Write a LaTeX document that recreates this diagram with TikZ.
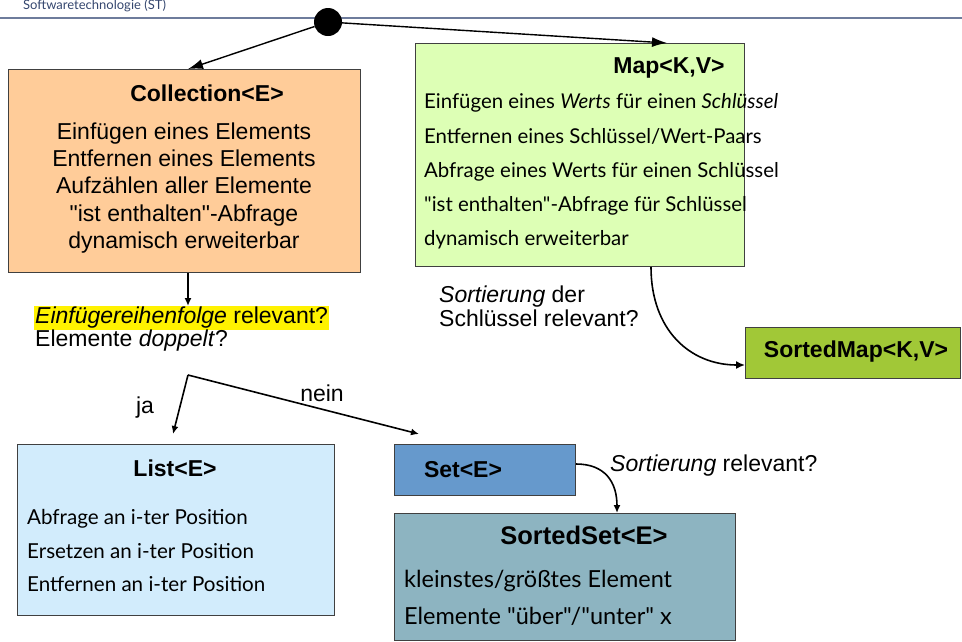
\documentclass[tikz,border=0pt]{standalone}
\usepackage{fontspec}
\setmainfont{Liberation Sans}
\newfontfamily\lato{Lato}
\newfontfamily\arialplain{Liberation Sans}
\usetikzlibrary{arrows.meta}
\definecolor{collfill}{HTML}{FFCC99}
\definecolor{mapfill}{HTML}{DDFFB5}
\definecolor{smapfill}{HTML}{A1C837}
\definecolor{listfill}{HTML}{D2ECFC}
\definecolor{setfill}{HTML}{6699CC}
\definecolor{ssetfill}{HTML}{8DB4C1}
\definecolor{hdrline}{HTML}{6E7C9C}
\definecolor{hdrtext}{HTML}{34466E}
\tikzset{
  box/.style={draw=black!75, line width=1pt, inner sep=0pt, anchor=north west},
  ttl/.style={font=\bfseries\fontsize{#1}{#1}\selectfont, inner sep=0pt},
  lbl/.style={font=\fontsize{23}{24}\selectfont, inner sep=0pt},
  bigarrow/.style={line width=1.4pt, -{Latex[length=15pt,width=10pt]}},
  smallarrow/.style={line width=1.6pt, -{Latex[length=8pt,width=7pt]}},
}
\begin{document}
\begin{tikzpicture}[x=1pt,y=-1pt]
\useasboundingbox (0,0) rectangle (962,641);
% header
\draw[hdrline, line width=1.4pt] (0,18) -- (962,18);
\node[anchor=west, inner sep=0pt, text=hdrtext, font=\lato\fontsize{13}{14}\selectfont] (hdr) at (23,6) {Softwaretechnologie (ST)};
% root
\node[circle, fill=black, minimum size=28pt, inner sep=0pt] (root) at (328,22) {};
% boxes
\node[box, fill=collfill, minimum width=352, minimum height=203] (coll) at (8,69) {};
\node[box, fill=mapfill, minimum width=329, minimum height=223] (map) at (415,43) {};
\node[box, fill=smapfill, minimum width=215, minimum height=51] (smap) at (745,327) {};
\node[box, fill=listfill, minimum width=317, minimum height=171] (list) at (17,444) {};
\node[box, fill=setfill, minimum width=181, minimum height=51] (set) at (394,444) {};
\node[box, fill=ssetfill, minimum width=341, minimum height=127] (sset) at (394,513) {};
% titles
\node[ttl=23] (colltitle) at (207,93) {Collection<E>};
\node[ttl=23] (maptitle) at (669,68) {Map<K,V>};
\node[ttl=23] (smaptitle) at (856,352) {SortedMap<K,V>};
\node[ttl=23] (listtitle) at (175,468) {List<E>};
\node[ttl=23] (settitle) at (463,470) {Set<E>};
\node[ttl=25.5] (ssettitle) at (584,535) {SortedSet<E>};
% bodies
\node[inner sep=0pt, align=center, font=\arialplain\fontsize{23}{27.25}\selectfont] (collbody) at (184,188)
  {Einfügen eines Elements\\Entfernen eines Elements\\Aufzählen aller Elemente\\"ist enthalten"-Abfrage\\dynamisch erweiterbar};
\node[inner sep=0pt, anchor=west, align=left, font=\lato\fontsize{20.4}{34.25}\selectfont] (mapbody) at (424,171.5)
  {Einfügen eines \textit{Werts} für einen \textit{Schlüssel}\\Entfernen eines Schlüssel/Wert-Paars\\Abfrage eines Werts für einen Schlüssel\\"ist enthalten"-Abfrage für Schlüssel\\dynamisch erweiterbar};
\node[inner sep=0pt, anchor=west, align=left, font=\lato\fontsize{20.6}{33.5}\selectfont] (listbody) at (27,550.5)
  {Abfrage an i-ter Position\\Ersetzen an i-ter Position\\Entfernen an i-ter Position};
\node[inner sep=0pt, anchor=west, align=left, font=\lato\fontsize{23.5}{37}\selectfont] (ssetbody) at (404,597.5)
  {kleinstes/größtes Element\\Elemente "über"/"unter" x};
% question labels
\node[lbl, anchor=west, fill=yellow, inner ysep=1pt, inner xsep=1pt] (q1) at (34,318) {\textit{Einfügereihenfolge} relevant?};
\node[lbl, anchor=west] (q2) at (35,341) {Elemente \textit{doppelt}?};
\node[lbl, anchor=west, align=left] (q3) at (439,306) {\textit{Sortierung} der\\Schlüssel relevant?};
\node[lbl, anchor=west] (q4) at (610,466) {\textit{Sortierung} relevant?};
\node[lbl] (ja) at (145,408) {ja};
\node[lbl] (nein) at (322,393) {nein};
% connectors
\coordinate (branch) at (188,375);
\coordinate (collend) at (188,306);
\coordinate (jaend) at (173,434);
\coordinate (neinend) at (419,434);
\draw[bigarrow] (root) -- (coll.north -| 188,0);
\draw[bigarrow] (root) -- (667,43);
\draw[smallarrow] (coll.south -| 188,0) -- (collend);
\draw[smallarrow] (branch) -- (jaend);
\draw[smallarrow] (branch) -- (neinend);
\draw[line width=1.6pt, -{Latex[length=9pt,width=8pt]}] (map.south -| 651,0) .. controls (651,330) and (690,365) .. (smap.west |- 0,365);
\draw[line width=1.6pt, -{Latex[length=8pt,width=7pt]}] (set.east |- 0,464) .. controls (605,464) and (617,482) .. (sset.north -| 617,0);
\end{tikzpicture}
\end{document}
